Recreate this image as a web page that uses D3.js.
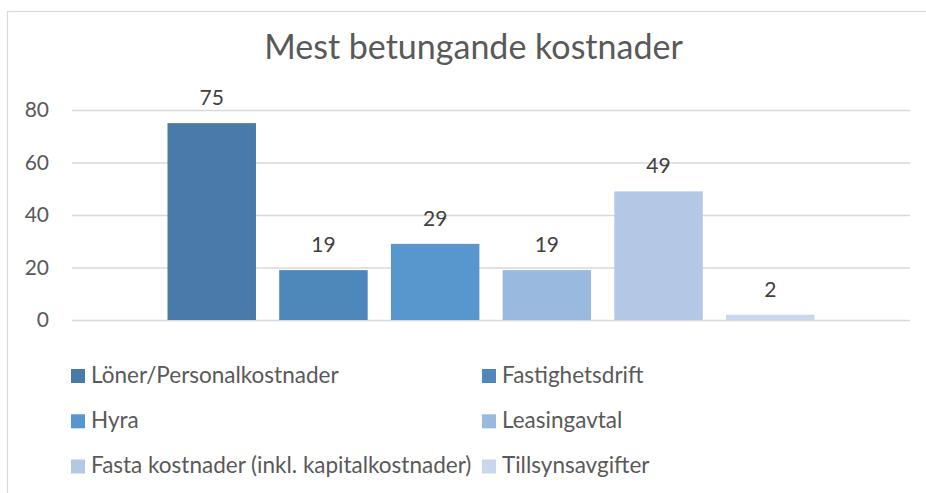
<!DOCTYPE html>
<html>
<head>
<meta charset="utf-8">
<style>
  body { margin: 0; background: #fff; }
  text { font-family: Lato, "Open Sans", sans-serif; }
</style>
</head>
<body>
<svg width="926" height="493" id="chart"></svg>
<script src="https://cdn.jsdelivr.net/npm/d3@7"></script>
<script>
// ---- data ----
var categories = ["Löner/Personalkostnader", "Fastighetsdrift", "Hyra", "Leasingavtal",
                  "Fasta kostnader (inkl. kapitalkostnader)", "Tillsynsavgifter"];
var values = [75, 19, 29, 19, 49, 2];
var colors = ["#4a7aa7", "#4e88bb", "#5897cd", "#99b9df", "#b4c8e5", "#c9d7ee"];
var yTicks = [0, 20, 40, 60, 80];
var title = "Mest betungande kostnader";

// ---- layout ----
var svg = d3.select("#chart"),
    plot = {left: 72, right: 910, top: 110, bottom: 320};

// chart frame (runs off the right and bottom of the picture)
svg.append("rect")
    .attr("x", 7.5).attr("y", 11.5)
    .attr("width", 940).attr("height", 500)
    .attr("fill", "#fff")
    .attr("stroke", "#d9d9d9")
    .attr("stroke-width", 1.2);

var x = d3.scaleBand()
    .domain(categories)
    .range([plot.left, plot.right])
    .paddingInner(0.208)
    .paddingOuter(0.855);

var y = d3.scaleLinear()
    .domain([0, 80])
    .range([plot.bottom, plot.top]);

// title
svg.append("text")
    .attr("x", 473.5)
    .attr("y", 59)
    .attr("text-anchor", "middle")
    .attr("fill", "#595959")
    .style("font-size", "34px")
    .text(title);

// gridlines + y labels
var yAxis = d3.axisLeft(y)
    .tickValues(yTicks)
    .tickSize(-(plot.right - plot.left))
    .tickPadding(23);

var gy = svg.append("g")
    .attr("transform", "translate(" + plot.left + ",0)")
    .call(yAxis);
gy.select(".domain").remove();
gy.selectAll(".tick line")
    .attr("stroke", "#d9d9d9")
    .attr("stroke-width", 1.5);
gy.selectAll(".tick text")
    .attr("fill", "#595959")
    .style("font-family", "Lato, sans-serif")
    .style("font-size", "21px");

// bars
svg.selectAll(".bar")
    .data(categories)
    .enter().append("rect")
    .attr("class", "bar")
    .attr("x", function(d) { return x(d); })
    .attr("width", x.bandwidth())
    .attr("y", function(d, i) { return y(values[i]); })
    .attr("height", function(d, i) { return y(0) - y(values[i]); })
    .attr("fill", function(d, i) { return colors[i]; });

// value labels
svg.selectAll(".val")
    .data(categories)
    .enter().append("text")
    .attr("class", "val")
    .attr("x", function(d) { return x(d) + x.bandwidth() / 2; })
    .attr("y", function(d, i) { return y(values[i]) - 18; })
    .attr("text-anchor", "middle")
    .attr("fill", "#404040")
    .style("font-size", "21px")
    .text(function(d, i) { return values[i]; });

// legend, two columns
var legCols = [71, 482], legRows = [376, 421.3, 466.5];
var leg = svg.selectAll(".leg")
    .data(categories)
    .enter().append("g")
    .attr("class", "leg")
    .attr("transform", function(d, i) {
      return "translate(" + legCols[i % 2] + "," + legRows[Math.floor(i / 2)] + ")";
    });

leg.append("rect")
    .attr("x", 0).attr("y", -7)
    .attr("width", 14).attr("height", 14)
    .attr("fill", function(d, i) { return colors[i]; });

leg.append("text")
    .attr("x", 20)
    .attr("y", 6.5)
    .attr("fill", "#595959")
    .style("font-size", "22.5px")
    .text(function(d) { return d; });
</script>
</body>
</html>
